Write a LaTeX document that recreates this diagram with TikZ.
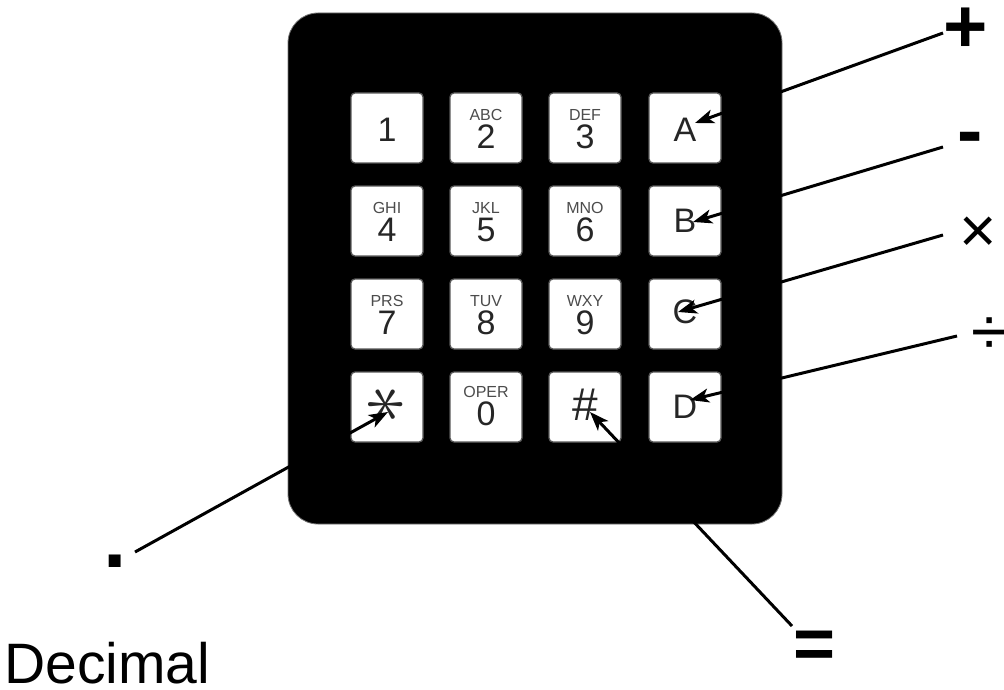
\documentclass[tikz,border=0pt]{standalone}
\usepackage{fontspec}
\setmainfont{Liberation Sans}
\usepackage{graphicx}
\usetikzlibrary{arrows.meta,calc}

\begin{document}
\begin{tikzpicture}[x=1pt,y=-1pt,
  panel/.style={fill=black, draw=black!55, line width=0.8pt, rounded corners=30pt},
  keycap/.style={draw=black!65, fill=white, line width=1.3pt, rounded corners=4pt,
                 minimum width=72pt, minimum height=70pt, inner sep=0pt},
  bigch/.style={font=\fontsize{34}{34}\selectfont, text=black!85, inner sep=0pt},
  smallch/.style={font=\fontsize{16}{16}\selectfont, text=black!70, inner sep=0pt},
  opsign/.style={inner sep=0pt, text=black},
  pointer/.style={line width=3pt, -{Stealth[length=19pt,width=14pt,inset=5pt]}},
]
\useasboundingbox (0,0) rectangle (1004,690);

% keypad housing
\draw[panel] (288,13) rectangle (782,524);

% key caps
\foreach \name/\x/\y in {k1/387/128, k2/486/128, k3/585/128, kA/685/128,
                         k4/387/221, k5/486/221, k6/585/221, kB/685/221,
                         k7/387/314, k8/486/314, k9/585/314, kC/685/314,
                         kS/387/407, k0/486/407, kH/585/407, kD/685/407}
  \node[keycap] (\name) at (\x,\y) {};

% key legends
\node[bigch] at ($(k1)+(0,2)$) {1};
\node[smallch] at ($(k2)+(0,-13)$) {ABC};  \node[bigch] at ($(k2)+(0,9)$) {2};
\node[smallch] at ($(k3)+(0,-13)$) {DEF};  \node[bigch] at ($(k3)+(0,9)$) {3};
\node[bigch] at ($(kA)+(0,2)$) {A};
\node[smallch] at ($(k4)+(0,-13)$) {GHI};  \node[bigch] at ($(k4)+(0,9)$) {4};
\node[smallch] at ($(k5)+(0,-13)$) {JKL};  \node[bigch] at ($(k5)+(0,9)$) {5};
\node[smallch] at ($(k6)+(0,-13)$) {MNO};  \node[bigch] at ($(k6)+(0,9)$) {6};
\node[bigch] at ($(kB)+(0,0)$) {B};
\node[smallch] at ($(k7)+(0,-13)$) {PRS};  \node[bigch] at ($(k7)+(0,9)$) {7};
\node[smallch] at ($(k8)+(0,-13)$) {TUV};  \node[bigch] at ($(k8)+(0,9)$) {8};
\node[smallch] at ($(k9)+(0,-13)$) {WXY};  \node[bigch] at ($(k9)+(0,9)$) {9};
\node[bigch] at ($(kC)+(0,-2)$) {C};
\node[bigch] at ($(kS)+(0,-2)$) {\scalebox{3.2}{\rotatebox{90}{$\ast$}}};
\node[smallch] at ($(k0)+(0,-15)$) {OPER};  \node[bigch] at ($(k0)+(0,7)$) {0};
\node[bigch, font=\fontsize{46}{46}\selectfont] at ($(kH)+(0,-2)$) {\#};
\node[bigch] at ($(kD)+(0,0)$) {D};

% operator labels
\node[opsign, font=\fontsize{76}{76}\selectfont\bfseries] (lplus) at (966,30) {+};
\node[opsign, font=\fontsize{76}{76}\selectfont\bfseries] (lminus) at (970,144) {-};
\node[opsign, font=\fontsize{64}{64}\selectfont] (ltimes) at (978,235) {×};
\node[opsign, font=\fontsize{66}{66}\selectfont] (ldiv) at (990,336) {÷};
\node[opsign, font=\fontsize{84}{84}\selectfont\bfseries] (ldot) at (115,561) {.};
\node[opsign, font=\fontsize{72}{72}\selectfont\bfseries] (leq) at (815,650) {=};
\node[opsign, font=\fontsize{57}{57}\selectfont, anchor=base west] (ldec) at (4,683) {Decimal};

% pointer tails next to the labels
\coordinate (tplus)  at (943,33);
\coordinate (tminus) at (943,147);
\coordinate (ttimes) at (943,235);
\coordinate (tdiv)   at (957,336);
\coordinate (tdot)   at (135,552);
\coordinate (teq)    at (792,626);

% pointer heads on the keys
\coordinate (hA) at ($(kA)+(10,-5)$);
\coordinate (hB) at ($(kB)+(8,1)$);
\coordinate (hC) at ($(kC)+(-7,-2)$);
\coordinate (hD) at ($(kD)+(5,-7)$);
\coordinate (hS) at ($(kS)+(1,5)$);
\coordinate (hH) at ($(kH)+(5,5)$);

\draw[pointer] (tplus)  -- (hA);
\draw[pointer] (tminus) -- (hB);
\draw[pointer] (ttimes) -- (hC);
\draw[pointer] (tdiv)   -- (hD);
\draw[pointer] (tdot)   -- (hS);
\draw[pointer] (teq)    -- (hH);
\end{tikzpicture}
\end{document}
